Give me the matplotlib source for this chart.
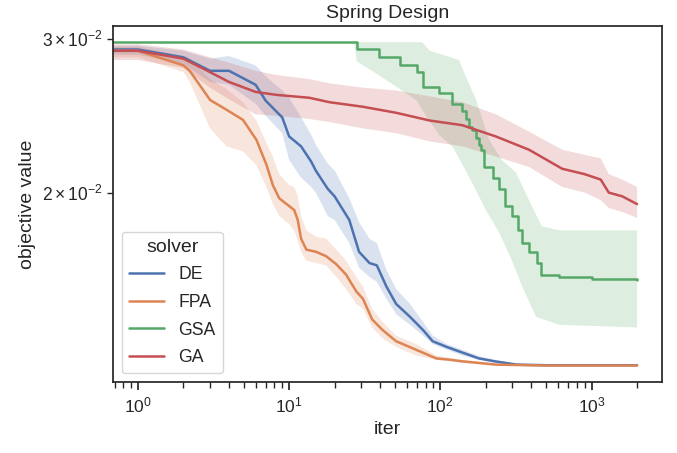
import numpy as np
import matplotlib
matplotlib.use('Agg')
import matplotlib.pyplot as plt
import seaborn as sns

# convergence curves (mean + band)
SOLVERS = ["DE", "FPA", "GSA", "GA"]

DE_ITER = [0, 1, 2, 3, 4, 6, 7, 9, 10, 12, 14, 15, 18, 20, 25, 29, 34, 38, 44, 51,
           63, 77, 89, 110, 140, 180, 230, 320, 500, 2000]
DE_MEAN = [0.0292, 0.0292, 0.0286, 0.0276, 0.0276, 0.0266, 0.0255, 0.0244, 0.0232, 0.0226,
           0.0217, 0.0212, 0.0202, 0.0198, 0.0186, 0.0171, 0.0166, 0.0165, 0.0156, 0.0149,
           0.0144, 0.0139, 0.0135, 0.0133, 0.0131, 0.0129, 0.0128, 0.01269, 0.01267, 0.01267]
DE_LO = [0.0288, 0.0288, 0.0281, 0.0268, 0.0266, 0.0253, 0.0245, 0.0234, 0.0218, 0.0208,
         0.0203, 0.0200, 0.0188, 0.0186, 0.0175, 0.0164, 0.0160, 0.0158, 0.0151, 0.0145,
         0.0141, 0.0137, 0.0134, 0.0132, 0.0130, 0.01285, 0.01275, 0.01267, 0.01266, 0.01266]
DE_HI = [0.0295, 0.0295, 0.0291, 0.0285, 0.0287, 0.0280, 0.0272, 0.0262, 0.0257, 0.0244,
         0.0233, 0.0227, 0.0216, 0.0212, 0.0197, 0.0185, 0.0177, 0.0175, 0.0163, 0.0155,
         0.0149, 0.0142, 0.0137, 0.0134, 0.0132, 0.01298, 0.01285, 0.01272, 0.01268, 0.01268]

FPA_ITER = [0, 1, 2, 2.2, 3, 3.85, 4.95, 6.07, 7.07, 7.8, 8.6, 10, 10.8, 11.4, 12, 13,
            15.1, 17.6, 20.5, 23.8, 27.8, 30.8, 35.4, 41.6, 51, 69, 94, 114, 140, 233, 500, 2000]
FPA_MEAN = [0.0291, 0.0291, 0.0280, 0.0276, 0.02555, 0.0249, 0.02424, 0.0230, 0.02154, 0.0204,
            0.0197, 0.0193, 0.0191, 0.0186, 0.0177, 0.0172, 0.0171, 0.0169, 0.01655, 0.0161,
            0.0154, 0.0151, 0.0143, 0.0139, 0.0135, 0.0132, 0.0129, 0.01286, 0.0128, 0.01269,
            0.01266, 0.01266]
FPA_LO = [0.0286, 0.0286, 0.0275, 0.0268, 0.0237, 0.0226, 0.0223, 0.0215, 0.0203, 0.0194,
          0.0188, 0.0184, 0.0181, 0.0176, 0.0171, 0.0167, 0.0166, 0.0165, 0.0160, 0.0155,
          0.0149, 0.0147, 0.0140, 0.0136, 0.0133, 0.0130, 0.01285, 0.0128, 0.01275, 0.01266,
          0.01265, 0.01265]
FPA_HI = [0.0294, 0.0294, 0.0287, 0.0285, 0.0270, 0.0263, 0.0254, 0.0242, 0.0228, 0.0220,
          0.0210, 0.0204, 0.0203, 0.0198, 0.0188, 0.0181, 0.0178, 0.0177, 0.0172, 0.0167,
          0.0160, 0.0156, 0.0147, 0.0142, 0.0137, 0.0134, 0.0130, 0.01292, 0.01285, 0.01272,
          0.01267, 0.01267]

GSA_ITER = [0, 28, 39, 54, 70, 77, 98, 120, 139, 147, 155, 163, 172, 180, 186, 195, 224, 245,
            268, 298, 327, 348, 387, 437, 464, 610, 1000, 2000]
GSA_MEAN = [0.02977, 0.02927, 0.02863, 0.02806, 0.02752, 0.02645, 0.0260, 0.0253, 0.0248, 0.0243,
            0.0238, 0.0236, 0.0231, 0.0227, 0.0224, 0.0214, 0.0208, 0.0202, 0.0193, 0.0188,
            0.0181, 0.0175, 0.0171, 0.0166, 0.0161, 0.0160, 0.0159, 0.01588]
GSA_HI_ITER = [0, 76, 85, 133, 147, 172, 210, 255, 316, 386, 468, 610, 2000]
GSA_HI = [0.02977, 0.02977, 0.0291, 0.0284, 0.0272, 0.0256, 0.0230, 0.0218, 0.0211, 0.0196,
          0.0183, 0.0181, 0.0181]
GSA_LO_ITER = [0, 27, 28, 39, 54, 70, 77, 98, 120, 133, 163, 200, 245, 298, 348, 430, 610, 2000]
GSA_LO = [0.02977, 0.02977, 0.0283, 0.0273, 0.0263, 0.0255, 0.0248, 0.0233, 0.0226, 0.0219,
          0.0205, 0.0191, 0.0180, 0.0167, 0.0156, 0.0144, 0.0141, 0.0140]

GA_ITER = [0, 1, 2, 3, 4, 6, 8.2, 13.6, 18.5, 30.6, 51, 85, 140, 233, 386, 640, 900, 1150,
           1300, 1600, 2000]
GA_MEAN = [0.0291, 0.0291, 0.0285, 0.0275, 0.0268, 0.0261, 0.0259, 0.0257, 0.0254, 0.0251,
           0.0247, 0.0242, 0.0239, 0.0232, 0.0224, 0.0213, 0.0210, 0.0207, 0.0200, 0.0198, 0.0194]
GA_LO = [0.0284, 0.0284, 0.0278, 0.0264, 0.0256, 0.0246, 0.0245, 0.0243, 0.0241, 0.0237,
         0.0234, 0.0229, 0.0226, 0.0220, 0.0214, 0.0203, 0.0200, 0.0196, 0.0192, 0.0190, 0.0187]
GA_HI = [0.0296, 0.0296, 0.0292, 0.0286, 0.0282, 0.0276, 0.0273, 0.0270, 0.0267, 0.0264,
         0.0262, 0.0258, 0.0254, 0.0246, 0.0235, 0.0224, 0.0221, 0.0219, 0.0210, 0.0207, 0.0203]

sns.set_theme(style='ticks', font_scale=1.15)
plt.rcParams['font.family'] = ['Liberation Sans', 'DejaVu Sans']
plt.rcParams.update({
    'mathtext.fontset': 'custom',
    'mathtext.rm': 'Liberation Sans',
    'mathtext.it': 'Liberation Sans:italic',
    'mathtext.bf': 'Liberation Sans:bold',
})

pal = sns.color_palette('deep')
colors = dict(zip(SOLVERS, [pal[0], pal[1], pal[2], pal[3]]))

fig = plt.figure(figsize=(6.77, 4.53), dpi=100)
fig.subplots_adjust(left=113/677, right=662/677, top=1-26/453, bottom=1-382/453)
ax = fig.add_subplot(111)
ax.set_xscale('log')
ax.set_yscale('log')

# bands first, lines on top (as seaborn does)
ax.fill_between(DE_ITER, DE_LO, DE_HI, color=colors["DE"], alpha=0.2, lw=0)
ax.fill_between(FPA_ITER, FPA_LO, FPA_HI, color=colors["FPA"], alpha=0.2, lw=0)
ax.fill(GSA_HI_ITER + GSA_LO_ITER[::-1], GSA_HI + GSA_LO[::-1],
        color=colors["GSA"], alpha=0.2, lw=0)
ax.fill_between(GA_ITER, GA_LO, GA_HI, color=colors["GA"], alpha=0.2, lw=0)

ax.plot(DE_ITER, DE_MEAN, color=colors["DE"], lw=1.8, label="DE")
ax.plot(FPA_ITER, FPA_MEAN, color=colors["FPA"], lw=1.8, label="FPA")
ax.plot(GSA_ITER, GSA_MEAN, color=colors["GSA"], lw=1.8, label="GSA", drawstyle='steps-post')
ax.plot(GA_ITER, GA_MEAN, color=colors["GA"], lw=1.8, label="GA")

ax.set_xlim(10**-0.165, 10**3.466)
ax.set_title("Spring Design", fontsize=14)
ax.set_xlabel("iter", fontsize=14)
ax.set_ylabel("objective value", fontsize=14)
ax.tick_params(labelsize=12.6)
ax.legend(title="solver", loc='lower left', fontsize=12.7, title_fontsize=14,
          labelspacing=0.6)

fig.savefig('out.png', dpi=100)
